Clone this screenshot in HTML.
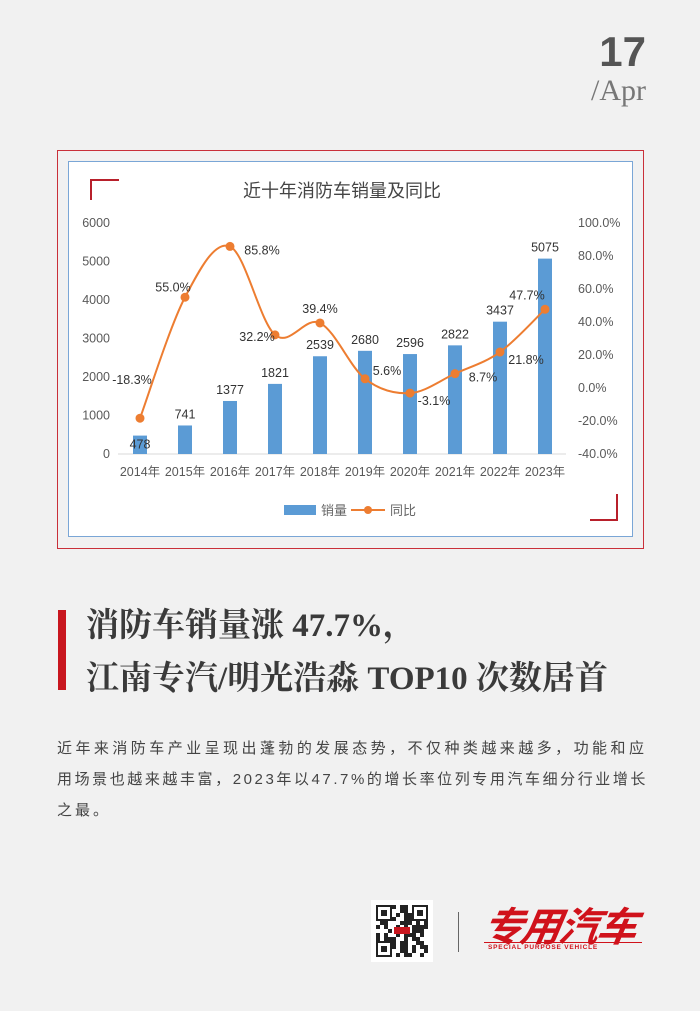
<!DOCTYPE html>
<html><head><meta charset="utf-8"><style>
body{margin:0;width:700px;height:1011px;background:#f1f1f1;position:relative;overflow:hidden;font-family:"Liberation Sans","Noto Sans CJK SC",sans-serif}
.abs{position:absolute}
</style></head><body>
<div class="abs" style="left:590px;top:28px;width:56px;text-align:right;font:bold 42px 'Liberation Sans',sans-serif;color:#555">17</div>
<div class="abs" style="left:560px;top:74px;width:86px;text-align:right;font:30px 'Liberation Serif',serif;color:#777">/Apr</div>

<div class="abs" style="left:57px;top:150px;width:587px;height:399px;border:1px solid #c9303a;box-sizing:border-box"></div>
<div class="abs" style="left:68px;top:161px;width:565px;height:376px;border:1px solid #7aa6d6;background:#fff;box-sizing:border-box"></div>
<svg class="abs" style="left:0;top:0" width="700" height="600">
<g id="deco">
<polyline points="91,200 91,180 119,180" fill="none" stroke="#b8202b" stroke-width="2"/>
<polyline points="590,520 617,520 617,494" fill="none" stroke="#b8202b" stroke-width="2"/>
</g>
<text x="342" y="197" text-anchor="middle" font-size="18" fill="#444">近十年消防车销量及同比</text>
<g id="axes"></g><g id="bars"></g><g id="line"></g><g id="labels"></g>
<g>
<rect x="284" y="505" width="32" height="10" fill="#5b9bd5"/>
<text x="321" y="515" font-size="13" fill="#666">销量</text>
<line x1="351" y1="510" x2="385" y2="510" stroke="#ed7d31" stroke-width="2"/>
<circle cx="368" cy="510" r="4" fill="#ed7d31"/>
<text x="390" y="515" font-size="13" fill="#666">同比</text>
</g>
</svg>

<div class="abs" style="left:58px;top:610px;width:8px;height:80px;background:#c8161e"></div>
<div class="abs" style="left:86px;top:600px;font:bold 33px 'Liberation Serif','Noto Serif CJK SC',serif;color:#3a3a3a;line-height:53px;white-space:nowrap">消防车销量涨 47.7%，<br>江南专汽/明光浩淼 TOP10 次数居首</div>
<div class="abs" style="left:57px;top:733px;font-size:15px;color:#444;line-height:31px;white-space:nowrap"><span style="letter-spacing:3.45px">近年来消防车产业呈现出蓬勃的发展态势，不仅种类越来越多，功能和应</span><br><span style="letter-spacing:2.57px">用场景也越来越丰富，2023年以47.7%的增长率位列专用汽车细分行业增长</span><br><span style="letter-spacing:3px">之最。</span></div>

<svg class="abs" style="left:371px;top:900px" width="62" height="62">
<rect width="62" height="62" fill="#fff"/>
<g fill="#222" id="qr"></g>
<rect x="23" y="27" width="16" height="7" fill="#c8161e"/>
</svg>
<div class="abs" style="left:458px;top:912px;width:1px;height:40px;background:#666"></div>
<div class="abs" style="left:484px;top:904px;width:162px;height:50px">
<div style="font:italic bold 40px 'Noto Sans CJK SC',sans-serif;color:#d0121b;letter-spacing:-2px;line-height:40px;transform:skewX(-10deg);white-space:nowrap">专用汽车</div>
<div style="position:absolute;left:0;top:38px;width:158px;height:1px;background:#d0121b"></div>
<div style="position:absolute;left:4px;top:40px;font:bold 6.5px 'Liberation Sans',sans-serif;color:#d0121b;letter-spacing:0.8px">SPECIAL PURPOSE VEHICLE</div>
</div>

<script>
const years=["2014年","2015年","2016年","2017年","2018年","2019年","2020年","2021年","2022年","2023年"];
const sales=[478,741,1377,1821,2539,2680,2596,2822,3437,5075];
const yoy=[-18.3,55.0,85.8,32.2,39.4,5.6,-3.1,8.7,21.8,47.7];
const leftTicks=[0,1000,2000,3000,4000,5000,6000];
const rightTicks=[-40,-20,0,20,40,60,80,100];
const NS="http://www.w3.org/2000/svg";
const y0=454,yTop=223,x0=140,dx=45;
const xS=i=>x0+i*dx;
const yL=v=>y0-(v/6000)*(y0-yTop);
const yR=v=>y0-((v+40)/140)*(y0-yTop);
function mk(tag,attrs,parent,txt){const e=document.createElementNS(NS,tag);for(const k in attrs)e.setAttribute(k,attrs[k]);if(txt!==undefined)e.textContent=txt;parent.appendChild(e);return e;}
const ax=document.getElementById('axes');
leftTicks.forEach(t=>{const e=mk('text',{x:110,y:yL(t)+4,'text-anchor':'end','font-size':12.5,fill:'#595959'},ax,String(t));

});
rightTicks.forEach(t=>{const e=mk('text',{x:578,y:yR(t)+4,'font-size':12.5,fill:'#595959'},ax,t.toFixed(1)+'%');

});
const base=mk('line',{x1:118,x2:566,y1:y0,y2:y0,stroke:'#d9d9d9'},ax);


years.forEach((y,i)=>{const e=mk('text',{x:xS(i),y:476,'text-anchor':'middle','font-size':12.5,fill:'#595959'},ax,y);

});
const bg=document.getElementById('bars'),lg=document.getElementById('labels');
sales.forEach((v,i)=>{const b=mk('rect',{x:xS(i)-7,y:yL(v),width:14,height:y0-yL(v),fill:'#5b9bd5'},bg);


const ly=i===0?yL(v)+5:yL(v)-7;
const t=mk('text',{x:xS(i),y:ly+(i===0?8:0),'text-anchor':'middle','font-size':12.5,fill:'#333'},lg,String(v));

});
const pts=yoy.map((v,i)=>[xS(i),yR(v)]);
let d='M'+pts[0][0]+','+pts[0][1];
for(let i=0;i<pts.length-1;i++){const p0=pts[Math.max(i-1,0)],p1=pts[i],p2=pts[i+1],p3=pts[Math.min(i+2,pts.length-1)];
const c1=[p1[0]+(p2[0]-p0[0])/6,p1[1]+(p2[1]-p0[1])/6],c2=[p2[0]-(p3[0]-p1[0])/6,p2[1]-(p3[1]-p1[1])/6];
d+=` C${c1[0]},${c1[1]} ${c2[0]},${c2[1]} ${p2[0]},${p2[1]}`;}
const lnG=document.getElementById('line');
const path=mk('path',{d:d,fill:'none',stroke:'#ed7d31','stroke-width':2},lnG);


const off=[[-8,-38],[-12,-10],[32,4],[-18,2],[0,-14],[22,-8],[24,8],[28,4],[26,8],[-18,-14]];
pts.forEach((p,i)=>{const c=mk('circle',{cx:p[0],cy:p[1],r:4.5,fill:'#ed7d31'},lnG);


const t=mk('text',{x:p[0]+off[i][0],y:p[1]+off[i][1]+4,'text-anchor':'middle','font-size':12.5,fill:'#333'},lg,yoy[i].toFixed(1)+'%');

});
const qr=document.getElementById('qr');const pat="1110101101011110100110100101110101100101101100110101011000111010110100101011110001010101110101001011101010111001011001010101100110";
let k=0;for(let r=0;r<13;r++)for(let c=0;c<13;c++){if(pat[(k++)%pat.length]==='1')mk('rect',{x:5+c*4,y:5+r*4,width:4,height:4},qr);}
[[5,5],[41,5],[5,41]].forEach(([x,y])=>{mk('rect',{x:x,y:y,width:16,height:16,fill:'#fff'},qr);mk('rect',{x:x+1,y:y+1,width:14,height:14,fill:'none',stroke:'#222','stroke-width':2},qr);mk('rect',{x:x+5,y:y+5,width:6,height:6},qr);});
</script>
</body></html>
